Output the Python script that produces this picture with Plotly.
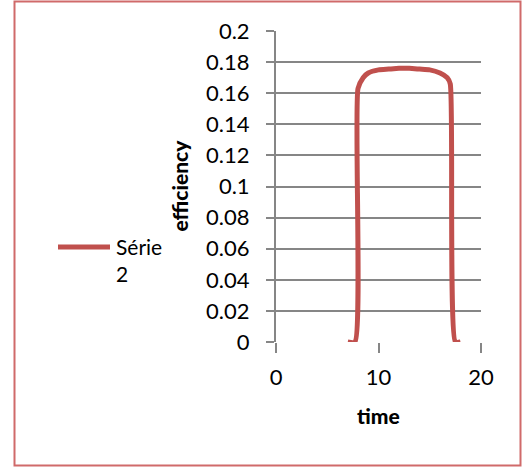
import plotly.graph_objects as go

time = [7.0, 7.7, 8.0, 8.5, 9, 10, 11, 12, 13, 14, 15, 16, 16.7, 17.0, 17.5, 18.0]
efficiency = [0, 0, 0.163, 0.170, 0.173, 0.175, 0.1755, 0.176, 0.176, 0.1755, 0.175, 0.173, 0.170, 0.166, 0, 0]
series_name = "Série"
series_name_wrap = "2"
x_ticks = [0, 10, 20]
y_ticks = [0, 0.02, 0.04, 0.06, 0.08, 0.1, 0.12, 0.14, 0.16, 0.18, 0.2]
y_tick_text = ["0", "0.02", "0.04", "0.06", "0.08", "0.1", "0.12", "0.14", "0.16", "0.18", "0.2"]

FONT = "Lato"
LINE_COLOR = "#C0504D"
W, H = 523, 467
L, R, T, B = 276, 42, 31, 125
pw, ph = W - L - R, H - T - B

def px_to_paper_x(px):
    return (px - L) / pw

def py_to_paper_y(py):
    return (H - B - py) / ph

fig = go.Figure()
fig.add_trace(go.Scatter(
    x=time, y=efficiency, mode="lines", name=series_name + " " + series_name_wrap,
    line=dict(color=LINE_COLOR, width=5, shape="spline", smoothing=0.6),
    showlegend=False,
))

fig.update_layout(
    width=W, height=H,
    margin=dict(l=L, r=R, t=T, b=B),
    paper_bgcolor="white", plot_bgcolor="white",
    font=dict(family=FONT, size=22, color="#000000"),
    xaxis=dict(range=[0, 20], tickvals=x_ticks, showgrid=False, zeroline=False,
               showline=False, ticks="outside", ticklen=10, tickwidth=2, tickcolor="#868686",
               ticklabelstandoff=6,
               tickfont=dict(size=22, family=FONT), fixedrange=True),
    yaxis=dict(range=[0, 0.2], tickvals=y_ticks, ticktext=y_tick_text, showgrid=True,
               gridcolor="#868686", gridwidth=2, zeroline=False, showline=True,
               linecolor="#868686", linewidth=2, ticks="outside", ticklen=8, tickwidth=2,
               tickcolor="#868686", ticklabelstandoff=12,
               tickfont=dict(size=22, family=FONT), fixedrange=True),
    annotations=[
        dict(text="efficiency", x=px_to_paper_x(178.5), y=py_to_paper_y(186),
             xref="paper", yref="paper", showarrow=False, textangle=-90,
             font=dict(size=21, family=FONT, weight=900), xanchor="center", yanchor="middle"),
        dict(text="time", x=px_to_paper_x(378), y=py_to_paper_y(415),
             xref="paper", yref="paper", showarrow=False,
             font=dict(size=21, family=FONT, weight=900), xanchor="center", yanchor="middle"),
        dict(text=series_name + "<br>" + series_name_wrap, x=px_to_paper_x(114), y=py_to_paper_y(232),
             xref="paper", yref="paper", showarrow=False, align="left",
             font=dict(size=21, family=FONT), xanchor="left", yanchor="top"),
    ],
    shapes=[
        dict(type="rect", xref="paper", yref="paper",
             x0=px_to_paper_x(14.5), x1=px_to_paper_x(520.5),
             y0=py_to_paper_y(465.5), y1=py_to_paper_y(1.5),
             line=dict(color="#D06A6A", width=2), fillcolor="rgba(0,0,0,0)", layer="below"),
        dict(type="line", xref="paper", yref="paper",
             x0=px_to_paper_x(58), x1=px_to_paper_x(110),
             y0=py_to_paper_y(247), y1=py_to_paper_y(247),
             line=dict(color=LINE_COLOR, width=5)),
    ],
)

fig.write_html("out.html")
